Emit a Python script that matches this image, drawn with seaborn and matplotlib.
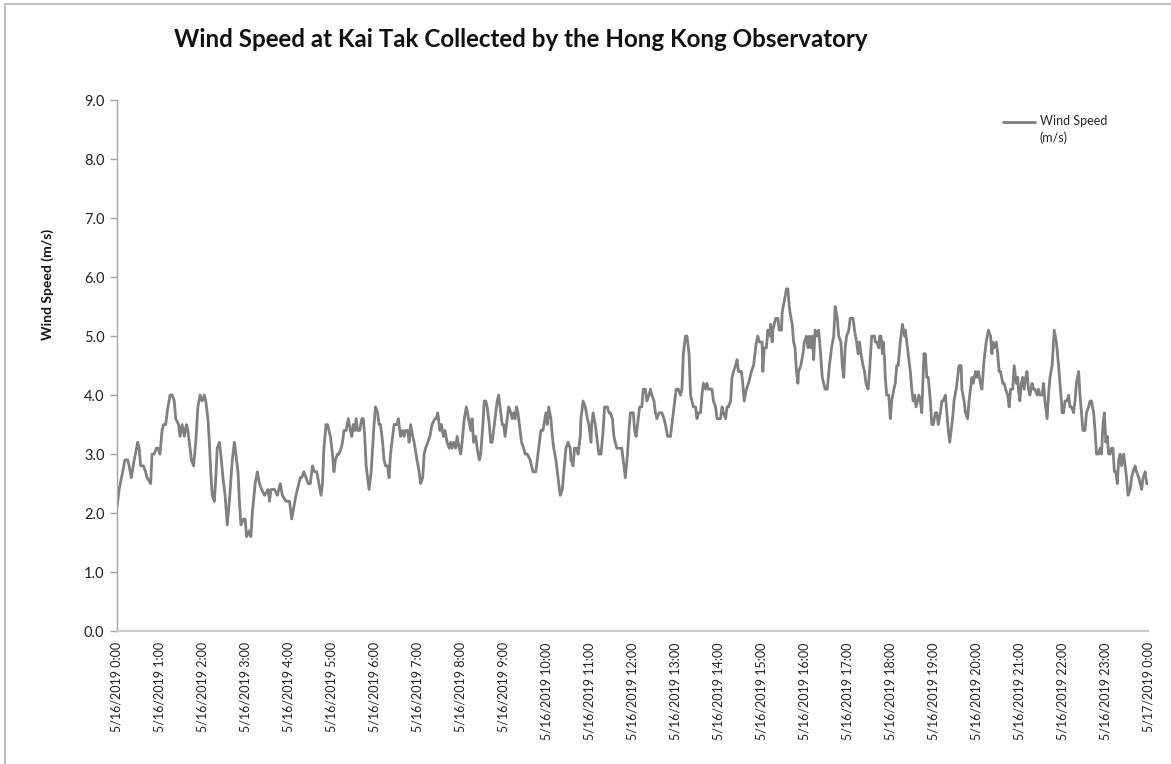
import matplotlib
matplotlib.use("Agg")
import matplotlib.pyplot as plt
import matplotlib.dates as mdates
from matplotlib.lines import Line2D
from matplotlib.legend_handler import HandlerLine2D
from matplotlib.ticker import FuncFormatter
import seaborn as sns
import pandas as pd

start = pd.Timestamp("2019-05-16 00:00")

# readings: minutes after midnight, wind speed (m/s)
minutes_0 = [0, 3, 8, 11, 15, 17, 20, 24, 29, 31,
             33, 37, 40, 42, 47, 49, 52, 55, 57, 60,
             63, 65, 68, 70, 74, 77, 80, 82, 86, 88,
             91, 94, 97, 99, 102, 104, 107, 110, 113, 116,
             119, 122, 124, 127, 129, 131, 133, 136, 138, 140,
             143, 145, 148, 151, 154, 157, 161, 164, 166, 169,
             171, 173, 177, 179, 181, 185, 187, 189, 193, 196,
             199, 202, 206, 211, 213, 215, 220, 224, 228, 231,
             236, 241, 244, 247]
speed_0 = [2.1, 2.4, 2.7, 2.9, 2.9, 2.8, 2.6, 2.9, 3.2, 3.1,
           2.8, 2.8, 2.7, 2.6, 2.5, 3.0, 3.0, 3.1, 3.1, 3.0,
           3.4, 3.5, 3.5, 3.7, 4.0, 4.0, 3.9, 3.6, 3.5, 3.3,
           3.5, 3.3, 3.5, 3.4, 3.1, 2.9, 2.8, 3.2, 3.8, 4.0,
           3.9, 4.0, 3.9, 3.6, 3.2, 2.7, 2.3, 2.2, 2.6, 3.1,
           3.2, 3.0, 2.6, 2.3, 1.8, 2.2, 2.9, 3.2, 3.0, 2.7,
           2.2, 1.8, 1.9, 1.9, 1.6, 1.7, 1.6, 2.0, 2.5, 2.7,
           2.5, 2.4, 2.3, 2.4, 2.2, 2.4, 2.4, 2.3, 2.5, 2.3,
           2.2, 2.2, 1.9, 2.1]

minutes_1 = [250, 252, 256, 258, 261, 264, 267, 270, 273, 276,
             279, 282, 285, 287, 289, 292, 294, 298, 301, 303,
             305, 308, 310, 313, 315, 317, 320, 323, 326, 328,
             330, 332, 334, 336, 339, 342, 344, 346, 348, 350,
             352, 355, 357, 359, 361, 364, 366, 368, 371, 373,
             375, 378, 380, 382, 385, 387, 391, 393, 394, 396,
             399, 401, 403, 406, 408, 410, 413, 415, 419, 422,
             424, 427, 429, 431, 434, 437, 440, 444, 446, 448,
             451, 453, 456, 458, 461, 464, 466, 468, 470, 473,
             475, 478, 480, 482, 485, 488, 491, 494, 496, 498,
             501, 503, 506, 508, 511, 513, 515, 517, 520, 522]
speed_1 = [2.3, 2.4, 2.6, 2.6, 2.7, 2.6, 2.5, 2.5, 2.8, 2.7,
           2.7, 2.5, 2.3, 2.5, 3.1, 3.5, 3.5, 3.3, 3.0, 2.7,
           2.9, 3.0, 3.0, 3.1, 3.2, 3.4, 3.4, 3.6, 3.4, 3.3,
           3.5, 3.4, 3.6, 3.4, 3.4, 3.6, 3.6, 3.3, 2.8, 2.6,
           2.4, 2.7, 3.1, 3.5, 3.8, 3.7, 3.5, 3.5, 3.2, 2.9,
           2.8, 2.8, 2.6, 3.0, 3.3, 3.5, 3.5, 3.6, 3.5, 3.3,
           3.4, 3.3, 3.4, 3.4, 3.2, 3.5, 3.3, 3.2, 2.9, 2.7,
           2.5, 2.6, 3.0, 3.1, 3.2, 3.3, 3.5, 3.6, 3.6, 3.7,
           3.4, 3.5, 3.3, 3.4, 3.2, 3.1, 3.2, 3.1, 3.2, 3.1,
           3.3, 3.1, 3.0, 3.2, 3.6, 3.8, 3.6, 3.4, 3.6, 3.2,
           3.3, 3.1, 2.9, 3.0, 3.5, 3.9, 3.9, 3.8, 3.5, 3.2]

minutes_2 = [524, 526, 529, 531, 533, 536, 538, 540, 542, 544,
             547, 550, 552, 554, 556, 558, 560, 563, 565, 568,
             570, 573, 577, 579, 581, 585, 587, 589, 592, 595,
             599, 601, 603, 606, 608, 610, 613, 615, 617, 619,
             622, 624, 627, 630, 633, 634, 637, 639, 642, 644,
             647, 648, 651, 654, 657, 659, 662, 663, 665, 668,
             670, 673, 676, 679, 681, 685, 687, 689, 692, 694,
             696, 698, 702, 705, 708, 710, 713, 715, 717, 721,
             723, 725, 727, 730, 733, 735, 738, 740, 743, 745,
             747, 750, 752, 754, 757, 761, 764, 766, 769, 773,
             775]
speed_2 = [3.2, 3.4, 3.7, 3.9, 4.0, 3.7, 3.5, 3.5, 3.3, 3.5,
           3.8, 3.7, 3.6, 3.7, 3.6, 3.8, 3.7, 3.4, 3.2, 3.1,
           3.0, 3.0, 2.9, 2.8, 2.7, 2.7, 2.9, 3.1, 3.4, 3.4,
           3.7, 3.5, 3.8, 3.6, 3.3, 3.1, 2.9, 2.7, 2.5, 2.3,
           2.4, 2.7, 3.1, 3.2, 3.1, 2.9, 2.8, 3.1, 3.1, 3.0,
           3.3, 3.6, 3.9, 3.8, 3.6, 3.5, 3.2, 3.5, 3.7, 3.5,
           3.3, 3.0, 3.0, 3.4, 3.8, 3.8, 3.7, 3.7, 3.6, 3.3,
           3.2, 3.1, 3.1, 3.1, 2.8, 2.6, 3.0, 3.4, 3.7, 3.7,
           3.4, 3.3, 3.5, 3.8, 3.8, 4.1, 4.1, 3.9, 4.0, 4.1,
           4.0, 3.9, 3.7, 3.6, 3.7, 3.7, 3.6, 3.5, 3.3, 3.3,
           3.5]

minutes_3 = [778, 781, 784, 787, 789, 791, 794, 796, 799, 801,
             803, 805, 808, 810, 812, 815, 817, 819, 822, 824,
             826, 831, 833, 836, 838, 843, 845, 847, 850, 852,
             854, 857, 859, 861, 864, 866, 868, 872, 874, 876,
             879, 882, 886, 889, 890, 893, 895, 897, 901, 902,
             904, 907, 909, 911, 913, 915, 916, 920, 923, 925,
             928, 929, 932, 935, 937, 939, 940, 943, 945, 947,
             949, 951, 952, 955, 958, 960, 963, 965, 967, 969,
             971, 973, 975, 978, 980, 982, 985, 987, 989, 992,
             995, 998, 1001, 1003, 1006, 1008, 1011, 1013, 1015, 1017,
             1019, 1022, 1024, 1028, 1030, 1033, 1035, 1037, 1039, 1042,
             1044, 1046, 1049, 1051]
speed_3 = [3.8, 4.1, 4.1, 4.0, 4.1, 4.7, 5.0, 5.0, 4.7, 4.0,
           3.9, 3.8, 3.8, 3.6, 3.7, 3.7, 4.0, 4.2, 4.1, 4.2,
           4.1, 4.1, 3.9, 3.8, 3.6, 3.6, 3.8, 3.7, 3.6, 3.8,
           3.8, 3.9, 4.3, 4.4, 4.5, 4.6, 4.4, 4.4, 4.2, 3.9,
           4.1, 4.2, 4.4, 4.5, 4.6, 4.9, 5.0, 4.9, 4.9, 4.4,
           4.8, 4.8, 5.1, 5.0, 5.2, 4.9, 5.1, 5.3, 5.3, 5.1,
           5.1, 5.4, 5.6, 5.8, 5.8, 5.5, 5.4, 5.2, 4.9, 4.8,
           4.4, 4.2, 4.4, 4.5, 4.7, 4.9, 5.0, 4.8, 5.0, 4.8,
           5.0, 4.6, 5.1, 5.0, 5.1, 4.8, 4.3, 4.2, 4.1, 4.1,
           4.5, 4.8, 5.0, 5.5, 5.3, 5.0, 4.9, 4.5, 4.3, 4.8,
           5.0, 5.1, 5.3, 5.3, 5.1, 4.9, 4.7, 4.9, 4.7, 4.5,
           4.4, 4.2, 4.1, 4.4]

minutes_4 = [1054, 1058, 1059, 1061, 1064, 1065, 1067, 1069, 1070, 1072,
             1073, 1075, 1078, 1080, 1082, 1085, 1087, 1089, 1091, 1094,
             1096, 1097, 1100, 1101, 1103, 1106, 1108, 1110, 1112, 1114,
             1116, 1118, 1120, 1122, 1124, 1127, 1129, 1131, 1133, 1136,
             1138, 1140, 1143, 1145, 1147, 1150, 1152, 1154, 1157, 1159,
             1161, 1163, 1165, 1167, 1169, 1172, 1174, 1176, 1179, 1180,
             1183, 1185, 1188, 1190, 1192, 1194, 1196, 1199, 1201, 1203,
             1206, 1208, 1211, 1214, 1217, 1220, 1222, 1223, 1225, 1228,
             1230, 1232, 1234, 1237, 1239, 1241, 1244, 1246, 1248, 1251,
             1253, 1256, 1258, 1259, 1261, 1263, 1265, 1267, 1269, 1271,
             1273, 1275, 1278, 1280, 1282, 1285, 1287, 1289, 1292, 1294,
             1296, 1299, 1301, 1303, 1306, 1308, 1309, 1312, 1315, 1317]
speed_4 = [5.0, 5.0, 4.9, 4.9, 4.8, 5.0, 5.0, 4.7, 4.9, 4.6,
           4.3, 4.0, 4.0, 3.6, 3.9, 4.1, 4.2, 4.5, 4.5, 4.9,
           5.1, 5.2, 5.0, 5.1, 4.9, 4.6, 4.4, 4.1, 3.9, 4.0,
           3.8, 3.9, 4.0, 3.9, 3.7, 4.7, 4.7, 4.3, 4.3, 3.9,
           3.5, 3.5, 3.7, 3.7, 3.5, 3.7, 3.9, 3.9, 4.0, 3.7,
           3.4, 3.2, 3.4, 3.6, 3.9, 4.1, 4.3, 4.5, 4.5, 4.1,
           3.9, 3.7, 3.6, 3.9, 4.1, 4.3, 4.2, 4.4, 4.3, 4.4,
           4.2, 4.1, 4.6, 4.9, 5.1, 5.0, 4.7, 4.9, 4.8, 4.9,
           4.7, 4.4, 4.4, 4.2, 4.2, 4.1, 4.0, 3.8, 4.1, 4.1,
           4.5, 4.2, 4.3, 4.1, 3.9, 4.2, 4.3, 4.1, 4.3, 4.4,
           4.1, 4.0, 4.2, 4.1, 4.1, 4.0, 4.1, 4.0, 4.0, 4.2,
           3.9, 3.6, 4.0, 4.3, 4.5, 4.9, 5.1, 4.9, 4.5, 4.2]

minutes_5 = [1319, 1320, 1322, 1324, 1327, 1329, 1331, 1333, 1336, 1338,
             1340, 1343, 1345, 1347, 1349, 1352, 1354, 1357, 1359, 1361,
             1364, 1366, 1368, 1371, 1373, 1375, 1377, 1379, 1381, 1383,
             1385, 1387, 1389, 1391, 1393, 1395, 1397, 1399, 1401, 1403,
             1406, 1408, 1410, 1412, 1415, 1417, 1419, 1422, 1424, 1427,
             1429, 1431, 1433, 1436, 1438, 1440]
speed_5 = [3.9, 3.7, 3.7, 3.9, 3.9, 4.0, 3.8, 3.8, 3.7, 3.9,
           4.2, 4.4, 4.0, 3.7, 3.4, 3.4, 3.7, 3.8, 3.9, 3.9,
           3.7, 3.4, 3.0, 3.0, 3.1, 3.0, 3.5, 3.7, 3.2, 3.3,
           3.0, 3.0, 3.1, 3.1, 2.7, 2.7, 2.5, 2.9, 3.0, 2.8,
           3.0, 2.8, 2.6, 2.3, 2.4, 2.6, 2.7, 2.8, 2.7, 2.6,
           2.5, 2.4, 2.6, 2.7, 2.5, 2.5]

minutes = minutes_0 + minutes_1 + minutes_2 + minutes_3 + minutes_4 + minutes_5
speed = speed_0 + speed_1 + speed_2 + speed_3 + speed_4 + speed_5

df = pd.DataFrame({
    "time": start + pd.to_timedelta(minutes, unit="min"),
    "speed": speed,
})

sns.set_style("white")
plt.rcParams["font.family"] = ["Lato", "DejaVu Sans"]

fig = plt.figure(figsize=(11.71, 7.64), dpi=100)
ax = fig.add_axes([0.0999, 0.174, 0.8805, 0.695])

sns.lineplot(data=df, x="time", y="speed", color="#808080", linewidth=2.0,
             errorbar=None, label="Wind Speed\n(m/s)", ax=ax)

ax.set_xlim(start, start + pd.Timedelta(hours=24))
ax.xaxis.set_major_locator(mdates.HourLocator(byhour=range(24)))


def date_label(x, pos):
    d = mdates.num2date(x)
    return f"{d.month}/{d.day}/{d.year} {d.hour}:{d.minute:02d}"


ax.xaxis.set_major_formatter(FuncFormatter(date_label))
ax.tick_params(axis="x", length=0, pad=8, labelsize=9, labelrotation=90,
               labelcolor="#222222")

ax.set_ylim(0, 9)
ax.set_yticks(range(10))
ax.yaxis.set_major_formatter(FuncFormatter(lambda v, p: f"{v:.1f}"))
ax.tick_params(axis="y", direction="out", length=5, width=1, color="#A6A6A6",
               pad=4, labelsize=10.5, labelcolor="#222222", left=True)

ax.set_xlabel("")
ax.set_ylabel("")
for side in ["top", "right"]:
    ax.spines[side].set_visible(False)
ax.spines["left"].set_color("#A6A6A6")
ax.spines["left"].set_linewidth(1)
ax.spines["bottom"].set_color("#C8C8C8")
ax.spines["bottom"].set_linewidth(1.6)


class TopAlignedLine(HandlerLine2D):
    # put the legend line level with the first row of a two-line label
    def create_artists(self, legend, orig_handle, xdescent, ydescent,
                       width, height, fontsize, trans):
        artists = super().create_artists(legend, orig_handle, xdescent, ydescent,
                                         width, height, fontsize, trans)
        for a in artists:
            a.set_ydata([y + fontsize * 0.65 for y in a.get_ydata()])
        return artists


leg = ax.legend(loc="upper left", bbox_to_anchor=(0.859, 0.971), frameon=False,
                fontsize=9, handlelength=2.6, handletextpad=0.35, borderpad=0,
                borderaxespad=0, handler_map={Line2D: TopAlignedLine()})
for t in leg.get_texts():
    t.set_linespacing(1.35)

fig.text(0.445, 0.948, "Wind Speed at Kai Tak Collected by the Hong Kong Observatory",
         ha="center", va="center", fontsize=17.4, fontweight="bold", color="#111111")
fig.text(0.041, 0.628, "Wind Speed (m/s)", rotation=90, ha="center", va="center",
         fontsize=10, fontweight="bold", color="#111111")

# chart frame (left and top edges visible in the source)
fig.add_artist(Line2D([0.0043, 0.0043], [0, 0.9948], transform=fig.transFigure,
                      color="#C0C0C0", linewidth=1.5))
fig.add_artist(Line2D([0.0043, 1.0], [0.9948, 0.9948], transform=fig.transFigure,
                      color="#C0C0C0", linewidth=1.5))

fig.savefig("out.png", dpi=100)
